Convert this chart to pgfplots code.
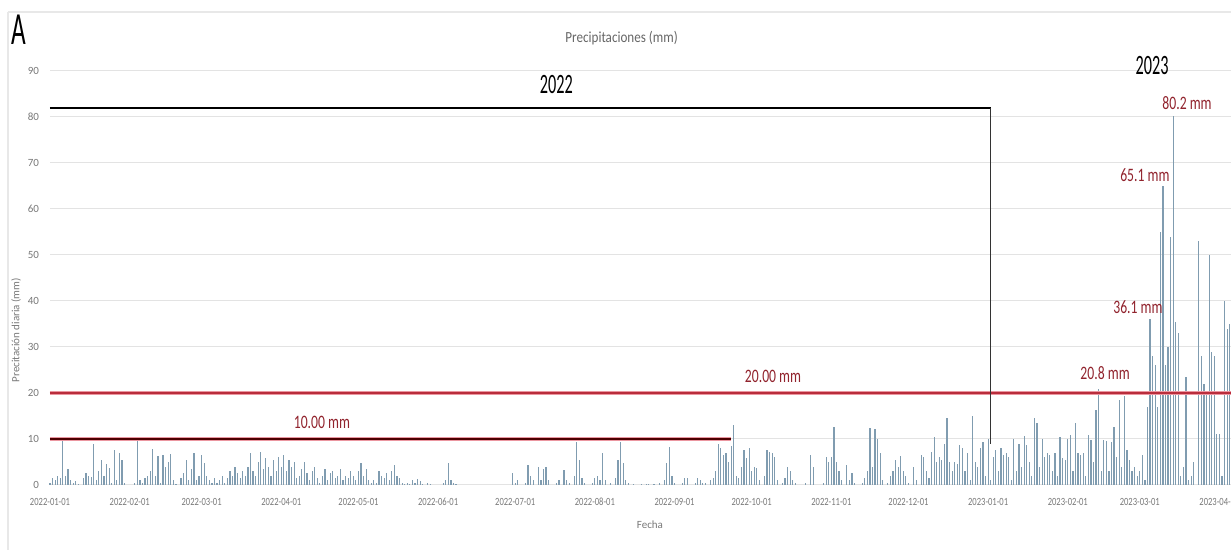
\documentclass[border=0pt]{standalone}
\usepackage{fontspec}
\setmainfont{Carlito}
\usepackage{pgfplots}
\pgfplotsset{compat=1.18}
\definecolor{barcol}{RGB}{128,156,176}
\definecolor{redline}{RGB}{185,45,60}
\definecolor{redhalo}{RGB}{235,150,160}
\definecolor{annot}{RGB}{145,35,45}
\definecolor{ticktxt}{RGB}{120,120,120}

\begin{document}
\begin{tikzpicture}
\begin{axis}[
    name=ax,
    scale only axis,
    width=590.5pt, height=207pt,
    xmin=0, xmax=459.5, ymin=0, ymax=90,
    clip=false,
    axis line style={draw=none},
    major tick length=0pt,
    ymajorgrids, grid style={gray!22, line width=0.5pt},
    ytick={0,10,...,90},
    xtick={0,31,59,90,120,151,181,212,243,273,304,334,365,396,424,455},
    xticklabels={2022-01-01,2022-02-01,2022-03-01,2022-04-01,2022-05-01,2022-06-01,2022-07-01,2022-08-01,2022-09-01,2022-10-01,2022-11-01,2022-12-01,2023-01-01,2023-02-01,2023-03-01,2023-04-01},
    /pgf/number format/assume math mode=true,
    ticklabel style={font=\fontsize{5.5}{6}\selectfont, text=ticktxt},
    xticklabel style={xscale=0.78, yshift=-3pt},
    yticklabel style={xshift=-2pt},
]
% daily precipitation (day 0 = 2022-01-01)
\addplot[ycomb, barcol, line width=0.6pt, mark=none] coordinates {
(0,0.5)(1,1.5)(2,1)(3,2)(4,1.5)(5,9.6)(6,2)(7,3.5)(8,1)(9,0.5)(10,0.8)(11,0.3)(12,0)(13,1.5)(14,2.5)(15,2)
(16,1.8)(17,9)(18,1)(19,3)(20,5.4)(21,2)(22,4.5)(23,3.6)(24,0.5)(25,7.6)(26,1)(27,6.9)(28,5.5)(29,0.5)(30,0)
(31,0)(32,0)(33,0.5)(34,10.1)(35,1)(36,0.5)(37,1.5)(38,2)(39,3)(40,7.8)(41,2)(42,6.2)(43,0.5)(44,6.5)(45,4)
(46,5)(47,6.8)(48,1)(49,0.3)(50,0)(51,1.5)(52,2.5)(53,5.5)(54,1)(55,3.5)(56,6.9)(57,1)(58,2)
(59,6.5)(60,4.7)(61,2)(62,1)(63,0.5)(64,1.5)(65,0.5)(66,1)(67,2)(68,0.5)(69,1.5)(70,3)(71,2)(72,4)(73,2.5)
(74,1.5)(75,3)(76,2)(77,4)(78,6.9)(79,3)(80,2)(81,5)(82,7.2)(83,3.5)(84,5.8)(85,4)(86,2)(87,5.5)(88,3)(89,6)
(90,4)(91,6.5)(92,3)(93,5.5)(94,4)(95,5)(96,1.5)(97,2)(98,3.5)(99,5)(100,2.5)(101,1)(102,3)(103,4)(104,1.5)
(105,0.5)(106,2)(107,3.5)(108,1)(109,2.5)(110,3)(111,1.5)(112,2)(113,3.5)(114,1)(115,2)(116,1.5)(117,3)(118,2)(119,1)
(120,3)(121,4.7)(122,2)(123,3.5)(124,1)(125,0.5)(126,1)(127,0.5)(128,3)(129,2)(130,1.5)(131,2.5)(132,1)(133,3)
(134,4.3)(135,2)(136,1.5)(137,0.5)(138,0.3)(139,0.5)(140,0.2)(141,1)(142,0.5)(143,1.2)(144,0.8)(145,0.3)(146,0)
(147,0.5)(148,0.2)(149,0)(150,0)(151,0)(152,0)(153,0.5)(154,1)(155,4.7)(156,1)(157,0.5)(158,0.2)(159,0)
(170,0)(180,2.5)(181,0.5)(182,1)(183,0)(184,0)(185,0.5)(186,4.3)(187,2)(188,1)(189,0)(190,4)(191,1)(192,3.5)
(193,4)(194,1)(195,0)(196,0)(197,0.5)(198,1)(199,0)(200,3.3)(201,1)(202,0.5)(203,0)(204,2)(205,9.4)(206,5.4)
(207,1.5)(208,0.5)(209,0)(210,0)(211,0.5)(212,1.5)(213,2)(214,1)(215,6.9)(216,1)(217,0)(218,0.5)(219,0)
(220,1.5)(221,5.4)(222,9.4)(223,4.7)(224,1)(225,0.5)(226,0)(227,0.2)(228,0)(229,0)(230,0.2)(231,0)(232,0.3)
(233,0.2)(234,0)(235,0.3)(236,0)(237,0.5)(238,0)(239,1)(240,4.7)(241,8.3)(242,2)
(243,0.5)(244,0)(245,0)(246,0.5)(247,1.5)(248,1.5)(249,0)(250,0)(251,0.5)(252,1.5)(253,1)(254,0.5)(255,0.5)
(256,0)(257,1)(258,1.5)(259,3)(260,9)(261,8)(262,6.5)(263,7)(264,5)(265,8.5)(266,13)(267,2)(268,1.5)(269,4)
(270,7.6)(271,5.8)(272,8)(273,3)(274,4)(275,3.6)(276,1)(277,0)(278,2)(279,7.6)(280,7.2)(281,7)(282,6)(283,1)
(284,0)(285,0.5)(286,1.5)(287,4)(288,3)(289,1)(290,0.5)(291,0)(292,0)(293,0)(294,0.5)(295,0)(296,6.5)(297,4)
(298,0)(299,0)(300,0)(301,0.5)(302,6)(303,5)(304,6)(305,12.7)(306,5)(307,3)(308,1)(309,0)(310,4.3)(311,1)
(312,2.5)(313,0.5)(314,0)(315,0)(316,0.5)(317,1.5)(318,3)(319,12.3)(320,4)(321,12.1)(322,10)(323,6.9)(324,1)
(325,0)(326,0.5)(327,2)(328,3)(329,5.4)(330,4)(331,6.2)(332,3)(333,2)
(334,0.5)(335,0)(336,4)(337,1)(338,0)(339,6.5)(340,6)(341,3)(342,1.5)(343,7.2)(344,10.5)(345,5)(346,6)
(347,5.5)(348,9)(349,14.5)(350,5)(351,3)(352,5)(353,4.5)(354,8.7)(355,8)(356,3)(357,7)(358,1)(359,14.9)
(360,5)(361,4)(362,8)(363,9.4)(364,2)(365,10)(366,1)(367,6)(368,7.5)(369,3)(370,8)(371,6.5)(372,7)(373,6)
(374,1)(375,10)(376,3)(377,9)(378,4)(379,10.6)(380,8.7)(381,5)(382,2)(383,14.5)(384,13.4)(385,4)(386,10)
(387,6)(388,7)(389,6.5)(390,3)(391,7)(392,2)(393,10.5)(394,5.8)(395,5.5)
(396,10)(397,10.9)(398,3)(399,13.4)(400,7)(401,6.5)(402,7)(403,2)(404,10.9)(405,9.8)(406,5)(407,16.3)
(408,20.8)(409,3)(410,9.8)(411,9.5)(412,3)(413,9.4)(414,12.7)(415,6)(416,18.5)(417,4)(418,19.3)(419,7.6)
(420,5.4)(421,3)(422,4)(423,2)(424,3)(425,6.5)(426,1)(427,17)(428,36.1)(429,28)(430,26)(431,17)(432,55)
(433,65.1)(434,26)(435,30)(436,54)(437,80.2)(438,35.5)(439,33)(440,2)(441,4)(442,23.5)(443,1)(444,2)(445,5)
(446,0)(447,53)(448,28)(449,22)(450,20)(451,50)(452,29)(453,28)(454,11)(455,11)(456,2)(457,40)(458,34)(459,35)
};
% 10 mm and 20 mm reference lines
\addplot[redhalo, line width=2.4pt, forget plot] coordinates {(0,20) (459.5,20)};
\addplot[redline, line width=1pt, forget plot] coordinates {(0,20) (459.5,20)};
\addplot[redhalo, line width=2.2pt, forget plot] coordinates {(0,10) (265,10)};
\addplot[black!70!red, line width=0.9pt, forget plot] coordinates {(0,10) (265,10)};
% 2022 bracket
\addplot[black, line width=0.9pt, forget plot] coordinates {(0,82) (366,82)};
\addplot[black!80, line width=0.5pt, forget plot] coordinates {(366,82) (366,9)};

\node[font=\fontsize{14}{16}\selectfont, xscale=0.58] at (axis cs:197,87) {2022};
\node[font=\fontsize{14}{16}\selectfont, xscale=0.58] at (axis cs:428.8,91.3) {2023};
\begin{scope}[every node/.style={font=\fontsize{9.5}{11}\selectfont, text=annot, xscale=0.72}]
\node at (axis cs:105.8,13.5) {10.00 mm};
\node at (axis cs:281.3,23.5) {20.00 mm};
\node at (axis cs:410.5,24.3) {20.8 mm};
\node at (axis cs:423.3,38.7) {36.1 mm};
\node at (axis cs:426,67.4) {65.1 mm};
\node at (axis cs:442.4,83) {80.2 mm};
\end{scope}
\node[font=\fontsize{7.7}{9}\selectfont, text=black!60, xscale=0.85] at (rel axis cs:0.484,1) [yshift=16.5pt] {Precipitaciones (mm)};
\node[font=\fontsize{5.5}{6}\selectfont, text=ticktxt] at (rel axis cs:0.508,0) [yshift=-20pt] {Fecha};
\node[font=\fontsize{5.5}{6}\selectfont, text=ticktxt, xshift=-17pt, rotate=90] at (rel axis cs:0,0.374) {Precitación diaria (mm)};
\end{axis}
\pgfresetboundingbox
\path (ax.south west) ++(-25pt,-32.5pt) coordinate (bl);
\path (ax.north east) ++(0,35.5pt) coordinate (tr);
\useasboundingbox (bl) rectangle (tr);
\draw[gray!18, line width=0.6pt] ([xshift=4pt,yshift=-6pt]bl |- tr) -- ([xshift=4pt]bl);
\draw[gray!18, line width=0.6pt] ([xshift=4pt,yshift=-6pt]bl |- tr) -- ([yshift=-6pt]tr);
\node[font=\fontsize{23}{25}\selectfont, xscale=0.55, anchor=north west] at ([xshift=4pt,yshift=-4pt]bl |- tr) {A};
\end{tikzpicture}
\end{document}
